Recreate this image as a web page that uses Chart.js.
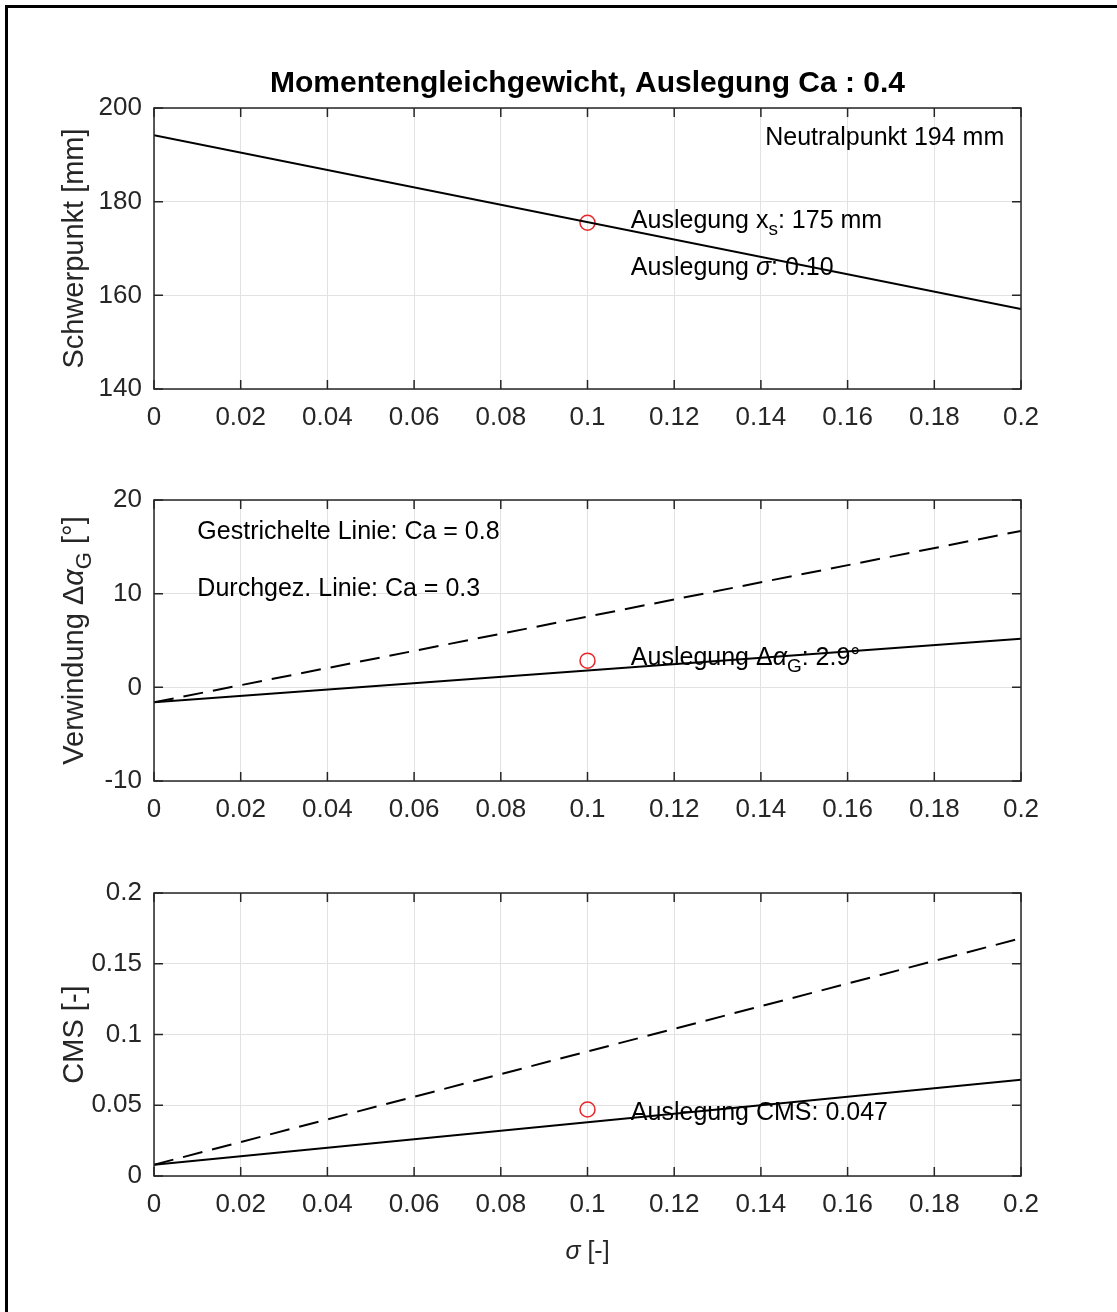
<!DOCTYPE html>
<html lang="de">
<head>
<meta charset="UTF-8">
<title>Momentengleichgewicht, Auslegung Ca : 0.4</title>
<script src="https://cdn.jsdelivr.net/npm/chart.js@4.4.0/dist/chart.umd.min.js"></script>
<style>
  body { margin: 0; background: #fff; }
  .wrap { position: relative; width: 1117px; height: 1312px; overflow: hidden; }
  .frame { position: absolute; left: 5px; top: 5px; width: 1300px; height: 1400px;
           border-top: 3px solid #000; border-left: 3px solid #000; }
  canvas { position: absolute; left: 0; }
</style>
</head>
<body>
<div class="wrap">
  <div class="frame"></div>
  <canvas id="c1" width="1117" height="450" style="top:0px"></canvas>
  <canvas id="c2" width="1117" height="400" style="top:450px"></canvas>
  <canvas id="c3" width="1117" height="462" style="top:850px"></canvas>
</div>
<script>
// Werte
const sigma = [0, 0.2];
const schwerpunkt = [194.2, 157.1];
const verwindungCa08 = [-1.6, 16.7];
const verwindungCa03 = [-1.6, 5.2];
const cmsCa08 = [0.008, 0.168];
const cmsCa03 = [0.008, 0.068];

const auslegungSigma = [0.1];
const auslegungXs = [175.5];
const auslegungDa = [2.85];
const auslegungCms = [0.047];

const xTicks = [0, 0.02, 0.04, 0.06, 0.08, 0.1, 0.12, 0.14, 0.16, 0.18, 0.2];
const xTickLabels = ['0', '0.02', '0.04', '0.06', '0.08', '0.1', '0.12', '0.14', '0.16', '0.18', '0.2'];
const yTicks1 = [140, 160, 180, 200];
const yTickLabels1 = ['140', '160', '180', '200'];
const yTicks2 = [-10, 0, 10, 20];
const yTickLabels2 = ['-10', '0', '10', '20'];
const yTicks3 = [0, 0.05, 0.1, 0.15, 0.2];
const yTickLabels3 = ['0', '0.05', '0.1', '0.15', '0.2'];

const FONT = '"Liberation Sans", Arial, Helvetica, sans-serif';
const AXIS = '#262626';
const GRID = '#e2e2e2';

// Text mit Index / kursiv zeichnen
function drawRuns(ctx, x, y, runs, size, align, color) {
  const fontOf = r => (r.bold ? 'bold ' : '') + (r.it ? 'italic ' : '') +
    (r.sub ? Math.round(size * 0.75) : size) + 'px ' + FONT;
  let total = 0;
  runs.forEach(r => { ctx.font = fontOf(r); total += ctx.measureText(r.t).width; });
  let cx = align === 'center' ? x - total / 2 : x;
  ctx.fillStyle = color || '#000';
  ctx.textBaseline = 'alphabetic';
  ctx.textAlign = 'left';
  runs.forEach(r => {
    ctx.font = fontOf(r);
    ctx.fillText(r.t, cx, r.sub ? y + size * 0.28 : y);
    cx += ctx.measureText(r.t).width;
  });
}

const deko = {
  id: 'deko',
  afterDraw(chart, args, opts) {
    const { ctx, chartArea: a, scales } = chart;
    ctx.save();
    // Kasten + Ticks nach innen
    ctx.strokeStyle = AXIS;
    ctx.lineWidth = 1.5;
    ctx.strokeRect(a.left, a.top, a.right - a.left, a.bottom - a.top);
    ctx.beginPath();
    scales.x.ticks.forEach(t => {
      const px = scales.x.getPixelForValue(t.value);
      ctx.moveTo(px, a.bottom); ctx.lineTo(px, a.bottom - 9);
      ctx.moveTo(px, a.top); ctx.lineTo(px, a.top + 9);
    });
    scales.y.ticks.forEach(t => {
      const py = scales.y.getPixelForValue(t.value);
      ctx.moveTo(a.left, py); ctx.lineTo(a.left + 9, py);
      ctx.moveTo(a.right, py); ctx.lineTo(a.right - 9, py);
    });
    ctx.stroke();

    // Beschriftungen im Diagramm
    (opts.texts || []).forEach(tx => {
      const px = scales.x.getPixelForValue(tx.x);
      const py = scales.y.getPixelForValue(tx.y) + 8;
      drawRuns(ctx, px, py, tx.runs, 25, 'left', '#000');
    });

    if (opts.title) {
      drawRuns(ctx, (a.left + a.right) / 2, 92, [{ t: opts.title, bold: true }], 30, 'center', '#000');
    }
    if (opts.yLabel) {
      ctx.save();
      ctx.translate(83, (a.top + a.bottom) / 2);
      ctx.rotate(-Math.PI / 2);
      drawRuns(ctx, 0, 0, opts.yLabel, 29, 'center', AXIS);
      ctx.restore();
    }
    if (opts.xLabel) {
      drawRuns(ctx, (a.left + a.right) / 2, a.bottom + 83, opts.xLabel, 25, 'center', AXIS);
    }
    ctx.restore();
  }
};

function scalesFor(yMin, yMax, yTicks, yLabels, xAxisH) {
  return {
    x: {
      type: 'linear', min: 0, max: 0.2,
      afterBuildTicks: s => { s.ticks = xTicks.map(v => ({ value: v })); },
      afterFit: s => { s.height = xAxisH; },
      grid: { color: GRID, lineWidth: 1, drawTicks: false },
      border: { display: false },
      ticks: {
        autoSkip: false, maxRotation: 0, padding: 13, color: AXIS,
        font: { family: FONT, size: 26 },
        callback: (v, i) => xTickLabels[i]
      }
    },
    y: {
      type: 'linear', min: yMin, max: yMax,
      afterBuildTicks: s => { s.ticks = yTicks.map(v => ({ value: v })); },
      afterFit: s => { s.width = 154; },
      grid: { color: GRID, lineWidth: 1, drawTicks: false },
      border: { display: false },
      ticks: {
        autoSkip: false, padding: 12, color: AXIS,
        font: { family: FONT, size: 26 },
        callback: (v, i) => yLabels[i]
      }
    }
  };
}

function pts(xs, ys) { return xs.map((x, i) => ({ x: x, y: ys[i] })); }

function lineSet(values, dashed) {
  return {
    type: 'line', data: pts(sigma, values),
    borderColor: '#000', borderWidth: 2, borderDash: dashed ? [20, 10] : [],
    pointRadius: 0, fill: false, tension: 0
  };
}

function markerSet(values) {
  return {
    type: 'scatter', data: pts(auslegungSigma, values),
    borderColor: '#e8262a', backgroundColor: 'rgba(0,0,0,0)', borderWidth: 1.5,
    pointRadius: 7.5, pointStyle: 'circle', showLine: false
  };
}

function baseOptions(top, scales, plug) {
  return {
    responsive: false, animation: false, devicePixelRatio: 1,
    layout: { padding: { left: 0, right: 96, top: top, bottom: 0 } },
    plugins: { legend: { display: false }, tooltip: { enabled: false }, deko: plug },
    scales: scales
  };
}

// 1. Schwerpunkt
new Chart(document.getElementById('c1'), {
  data: { datasets: [lineSet(schwerpunkt, false), markerSet(auslegungXs)] },
  options: baseOptions(108, scalesFor(140, 200, yTicks1, yTickLabels1, 61), {
    title: 'Momentengleichgewicht, Auslegung Ca : 0.4',
    yLabel: [{ t: 'Schwerpunkt [mm]' }],
    texts: [
      { x: 0.141, y: 193.8, runs: [{ t: 'Neutralpunkt 194 mm' }] },
      { x: 0.11, y: 176.1, runs: [{ t: 'Auslegung x' }, { t: 's', sub: true }, { t: ': 175 mm' }] },
      { x: 0.11, y: 166.1, runs: [{ t: 'Auslegung ' }, { t: 'σ', it: true }, { t: ': 0.10' }] }
    ]
  }),
  plugins: [deko]
});

// 2. Verwindung
new Chart(document.getElementById('c2'), {
  data: { datasets: [lineSet(verwindungCa08, true), lineSet(verwindungCa03, false), markerSet(auslegungDa)] },
  options: baseOptions(50, scalesFor(-10, 20, yTicks2, yTickLabels2, 69), {
    yLabel: [{ t: 'Verwindung Δ' }, { t: 'α', it: true }, { t: 'G', sub: true }, { t: ' [°]' }],
    texts: [
      { x: 0.01, y: 16.7, runs: [{ t: 'Gestrichelte Linie: Ca = 0.8' }] },
      { x: 0.01, y: 10.6, runs: [{ t: 'Durchgez. Linie: Ca = 0.3' }] },
      { x: 0.11, y: 3.2, runs: [{ t: 'Auslegung Δ' }, { t: 'α', it: true }, { t: 'G', sub: true }, { t: ': 2.9°' }] }
    ]
  }),
  plugins: [deko]
});

// 3. CMS
new Chart(document.getElementById('c3'), {
  data: { datasets: [lineSet(cmsCa08, true), lineSet(cmsCa03, false), markerSet(auslegungCms)] },
  options: baseOptions(43, scalesFor(0, 0.2, yTicks3, yTickLabels3, 136), {
    yLabel: [{ t: 'CMS [-]' }],
    xLabel: [{ t: 'σ', it: true }, { t: ' [-]' }],
    texts: [
      { x: 0.11, y: 0.0452, runs: [{ t: 'Auslegung CMS: 0.047' }] }
    ]
  }),
  plugins: [deko]
});
</script>
</body>
</html>
